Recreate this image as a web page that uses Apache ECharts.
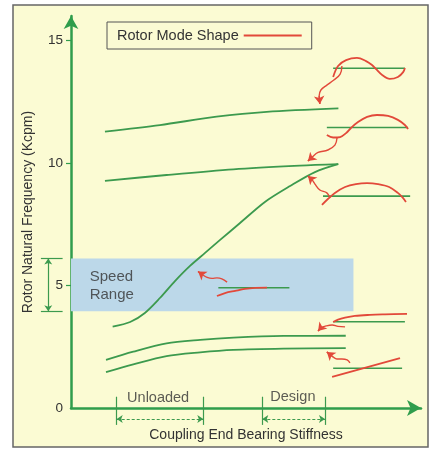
<!DOCTYPE html>
<html>
<head>
<meta charset="utf-8">
<script src="https://cdn.jsdelivr.net/npm/echarts@6/dist/echarts.min.js"></script>
<style>
  html, body { margin: 0; padding: 0; background: #fff; }
  #main { width: 432px; height: 450px; }
</style>
</head>
<body>
<div id="main"></div>
<script>
// axis ticks / labels
var yLabels = [0, 5, 10, 15];
var yTicks = [5, 10, 15];

// green frequency curves [stiffness, Kcpm]
var mode4Curve = [[9.7, 11.28], [25.4, 11.55], [41.6, 11.89], [55.9, 12.09], [76.4, 12.23]];
var mode3Curve = [[9.7, 9.27], [27.3, 9.51], [46.4, 9.74], [65.4, 9.89], [76.4, 9.95]];
var sCurve = [[11.9, 3.32], [16.9, 3.51], [21.1, 3.88], [25.4, 4.49], [29.7, 5.18], [34.0, 5.80],
  [38.3, 6.33], [42.6, 6.86], [48.3, 7.55], [55.4, 8.41], [62.6, 9.06], [69.7, 9.63], [76.3, 9.95]];
var mode2Curve = [[10.0, 1.96], [17.8, 2.30], [27.3, 2.64], [36.9, 2.78], [46.4, 2.87], [60.7, 2.94], [78.5, 2.95]];
var mode1Curve = [[10.0, 1.46], [17.8, 1.78], [27.3, 2.12], [36.9, 2.27], [46.4, 2.37], [60.7, 2.42], [78.5, 2.44]];

// speed range band
var bandX = [0, 80.7];
var bandY = [3.95, 6.1];

// rotor mode shape sketches (red) and their shaft lines (green)
var shapeTop = [[74.9, 13.51], [76.3, 13.96], [78.6, 14.2], [81.7, 14.29], [84.3, 14.16], [86.0, 14.0],
  [87.1, 13.84], [88.9, 13.59], [91.1, 13.43], [93.4, 13.51], [94.9, 13.71], [95.4, 13.88]];
var shaftTop = [[74.9, 13.87], [95.4, 13.87]];
var shapeSecond = [[73.1, 11.14], [74.9, 11.04], [76.9, 11.06], [78.6, 11.22], [80.0, 11.43], [82.0, 11.67],
  [84.6, 11.88], [87.4, 11.96], [90.6, 11.92], [93.4, 11.76], [95.4, 11.55], [96.3, 11.39]];
var shaftSecond = [[73.1, 11.45], [96.3, 11.45]];
var shapeArch = [[71.7, 8.29], [73.4, 8.53], [75.4, 8.78], [78.3, 9.02], [81.4, 9.14], [84.6, 9.18],
  [87.7, 9.14], [90.9, 9.02], [93.4, 8.78], [94.9, 8.57], [95.7, 8.41]];
var shaftArch = [[72.0, 8.65], [96.9, 8.65]];
var shapeMid = [[41.7, 4.57], [44.0, 4.69], [46.9, 4.78], [49.7, 4.86], [52.6, 4.90], [56.0, 4.91]];
var shaftMid = [[42.1, 4.91], [62.4, 4.91]];
var shapeFlat = [[74.9, 3.51], [76.3, 3.61], [78.3, 3.69], [81.1, 3.76], [85.4, 3.80], [89.7, 3.82], [96.0, 3.84]];
var shaftFlat = [[74.9, 3.52], [95.4, 3.52]];
var shapeTilt = [[74.6, 1.27], [94.0, 2.04]];
var shaftTilt = [[74.9, 1.62], [94.6, 1.62]];

// wavy pointer arrows
var arrowPaths = [
  [[77.4, 13.96], [76.9, 13.63], [75.1, 13.39], [73.1, 13.18], [71.4, 12.98], [70.9, 12.73], [71.1, 12.41]],
  [[76.0, 11.02], [75.4, 10.73], [73.4, 10.53], [70.6, 10.43], [68.9, 10.24], [67.7, 10.08]],
  [[74.0, 8.57], [73.1, 8.78], [71.1, 8.90], [69.7, 9.14], [68.9, 9.31], [67.7, 9.47]],
  [[44.6, 5.14], [43.1, 5.27], [41.7, 5.31], [40.3, 5.29], [38.9, 5.33], [37.7, 5.43], [36.3, 5.57]],
  [[78.3, 3.31], [76.3, 3.33], [74.6, 3.39], [72.9, 3.35], [71.4, 3.27], [70.6, 3.14]],
  [[79.7, 1.84], [78.9, 1.96], [77.4, 2.00], [76.0, 2.00], [74.9, 2.08], [73.1, 2.29]]
];

// stiffness brackets
var unloadedX = [13.06, 37.8];
var designX = [54.66, 72.57];
var bracketY = [0.46, -0.69];
var bracketArrowY = -0.45;
var speedBracketX = -6.5;
var speedTickX = [-8.6, -2.4];

// text notes
var notes = [
  { name: 'Unloaded', value: [24.9, 0.42] },
  { name: 'Design', value: [63.4, 0.46] }
];
var speedNote = [{ name: 'Speed\nRange', value: [5.2, 5.0] }];

var GREEN = '#3c9a4e';
var AXIS_GREEN = '#2f9d4c';
var RED = '#e2493a';
var TEXT = '#333';
var FONT = 'Liberation Sans';

var myChart = echarts.init(document.getElementById('main'));

var series = [];
function greenLine(d) {
  series.push({ type: 'line', data: d, smooth: 0.3, showSymbol: false, silent: true, z: 3,
    lineStyle: { color: GREEN, width: 1.8 }, itemStyle: { color: GREEN } });
}
function shaftLine(d) {
  series.push({ type: 'line', data: d, showSymbol: false, silent: true, z: 4,
    lineStyle: { color: GREEN, width: 1.6 }, itemStyle: { color: GREEN } });
}
function redShape(d) {
  series.push({ type: 'line', name: 'Rotor Mode Shape', data: d, smooth: 0.35, showSymbol: false, silent: true, z: 5,
    lineStyle: { color: RED, width: 1.8 }, itemStyle: { color: RED } });
}

// band holder
series.push({
  type: 'line', data: [], z: 1, silent: true,
  markArea: {
    silent: true,
    itemStyle: { color: '#bcd8e9' },
    data: [[{ coord: [bandX[0], bandY[0]] }, { coord: [bandX[1], bandY[1]] }]]
  }
});

[mode4Curve, mode3Curve, sCurve, mode2Curve, mode1Curve].forEach(greenLine);
[shaftTop, shaftSecond, shaftArch, shaftMid, shaftFlat, shaftTilt].forEach(shaftLine);
[shapeTop, shapeSecond, shapeArch, shapeMid, shapeFlat, shapeTilt].forEach(redShape);

// arrow bodies
arrowPaths.forEach(function (p) {
  series.push({ type: 'line', data: p, smooth: 0.4, showSymbol: false, silent: true, z: 5,
    lineStyle: { color: RED, width: 1.4 }, itemStyle: { color: RED } });
});
// arrow heads
series.push({
  type: 'lines', coordinateSystem: 'cartesian2d', silent: true, z: 6,
  symbol: ['none', 'arrow'], symbolSize: 8,
  lineStyle: { color: RED, width: 1.4, opacity: 1 },
  data: arrowPaths.map(function (p) { return { coords: [p[p.length - 2], p[p.length - 1]] }; })
});

// bracket ticks (outside the plot)
var tickSegs = [];
unloadedX.concat(designX).forEach(function (x) {
  tickSegs.push({ coords: [[x, bracketY[0]], [x, bracketY[1]]] });
});
bandY.forEach(function (y) {
  tickSegs.push({ coords: [[speedTickX[0], y], [speedTickX[1], y]] });
});
series.push({
  type: 'lines', coordinateSystem: 'cartesian2d', silent: true, clip: false, z: 6,
  symbol: 'none', lineStyle: { color: GREEN, width: 1.2, opacity: 1 }, data: tickSegs
});
series.push({
  type: 'lines', coordinateSystem: 'cartesian2d', silent: true, clip: false, z: 6,
  symbol: ['arrow', 'arrow'], symbolSize: 6,
  lineStyle: { color: GREEN, width: 1.2, type: [3, 2], opacity: 1 },
  data: [
    { coords: [[unloadedX[0], bracketArrowY], [unloadedX[1], bracketArrowY]] },
    { coords: [[designX[0], bracketArrowY], [designX[1], bracketArrowY]] }
  ]
});
series.push({
  type: 'lines', coordinateSystem: 'cartesian2d', silent: true, clip: false, z: 6,
  symbol: ['arrow', 'arrow'], symbolSize: 6,
  lineStyle: { color: GREEN, width: 1.2, opacity: 1 },
  data: [{ coords: [[speedBracketX, bandY[0]], [speedBracketX, bandY[1]]] }]
});

// texts
series.push({
  type: 'scatter', data: notes, symbolSize: 1, silent: true, clip: false, z: 7,
  itemStyle: { color: 'rgba(0,0,0,0)' },
  label: { show: true, position: 'inside', formatter: '{b}', color: TEXT, fontSize: 14.5, fontFamily: FONT }
});
series.push({
  type: 'scatter', data: speedNote, symbolSize: 1, silent: true, z: 7,
  itemStyle: { color: 'rgba(0,0,0,0)' },
  label: { show: true, position: 'right', distance: 0, formatter: '{b}', color: TEXT,
    fontSize: 15, lineHeight: 18, fontFamily: FONT }
});

var option = {
  animation: false,
  textStyle: { fontFamily: FONT },
  graphic: [{
    type: 'rect', z: -10, silent: true,
    shape: { x: 13, y: 5, width: 415, height: 442 },
    style: { fill: '#fbfbd3', stroke: '#666', lineWidth: 1.5 }
  }],
  legend: {
    data: ['Rotor Mode Shape'],
    left: 107, top: 22,
    align: 'right',
    icon: 'rect', itemWidth: 58, itemHeight: 2,
    padding: [6, 10],
    borderColor: '#555', borderWidth: 1,
    selectedMode: false,
    textStyle: { color: TEXT, fontSize: 14.5, fontFamily: FONT }
  },
  grid: { left: 71, right: 11, top: 16, bottom: 42, outerBoundsMode: 'none' },
  xAxis: {
    type: 'value', min: 0, max: 100,
    name: 'Coupling End Bearing Stiffness',
    nameLocation: 'middle', nameGap: 20,
    nameTextStyle: { color: TEXT, fontSize: 14, fontFamily: FONT },
    axisLine: { show: true, onZero: false, symbol: ['none', 'arrow'], symbolSize: [12, 14],
      lineStyle: { color: AXIS_GREEN, width: 2.5 } },
    axisTick: { show: false },
    axisLabel: { show: false },
    splitLine: { show: false }
  },
  yAxis: {
    type: 'value', min: 0, max: 16, interval: 5,
    name: 'Rotor Natural Frequency (Kcpm)',
    nameLocation: 'middle', nameGap: 36,
    nameTextStyle: { color: TEXT, fontSize: 14, fontFamily: FONT },
    axisLine: { show: true, symbol: ['none', 'arrow'], symbolSize: [11, 13],
      lineStyle: { color: AXIS_GREEN, width: 2.5 } },
    axisTick: { show: true, length: 5, customValues: yTicks, lineStyle: { color: AXIS_GREEN, width: 1.2 } },
    axisLabel: { customValues: yLabels, margin: 8, color: TEXT, fontSize: 13.5, fontFamily: FONT },
    splitLine: { show: false }
  },
  series: series
};

myChart.setOption(option);
</script>
</body>
</html>
